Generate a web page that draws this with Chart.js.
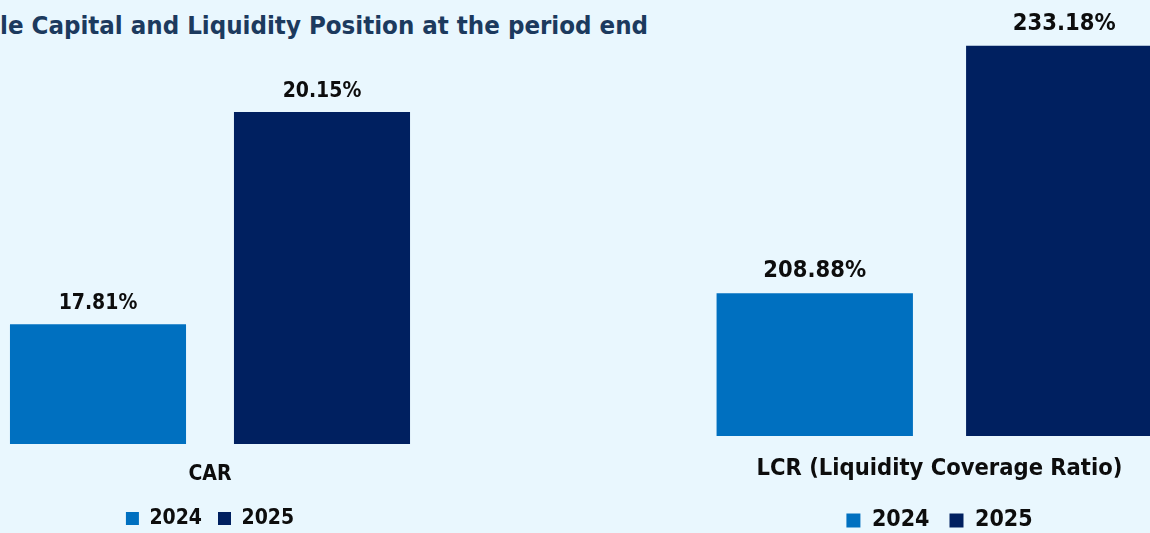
<!DOCTYPE html>
<html>
<head>
<meta charset="utf-8">
<script src="https://cdn.jsdelivr.net/npm/chart.js@4.4.1/dist/chart.umd.min.js"></script>
<style>
  html,body{margin:0;padding:0;width:1150px;height:533px;overflow:hidden;background:#e9f7fe;}
  #title{position:absolute;left:0;top:12px;font:bold 25.6px 'DejaVu Sans Condensed','DejaVu Sans',sans-serif;line-height:26px;color:#1c3a5e;white-space:nowrap;}
  canvas{position:absolute;top:0;}
  #cCar{left:-14px;}
  #cLcr{left:690px;}
</style>
</head>
<body>
<div id="title">le Capital and Liquidity Position at the period end</div>
<canvas id="cCar" width="448" height="539"></canvas>
<canvas id="cLcr" width="499" height="542"></canvas>
<script>
// ---- data ----
const years = ['2024', '2025'];
const carLabels = ['CAR'];
const car2024 = [17.81];
const car2025 = [20.15];
const lcrLabels = ['LCR (Liquidity Coverage Ratio)'];
const lcr2024 = [208.88];
const lcr2025 = [233.18];

const C24 = '#0070C0', C25 = '#002060', INK = '#0d0d0d';
const FAM = "'DejaVu Sans Condensed','DejaVu Sans',sans-serif";
Chart.defaults.font.family = FAM;
Chart.defaults.color = INK;

// value labels above bars
const valueLabels = {
  id: 'valueLabels',
  afterDatasetsDraw(chart, args, opts) {
    const ctx = chart.ctx;
    ctx.save();
    ctx.font = 'bold ' + opts.size + 'px ' + FAM;
    ctx.fillStyle = INK;
    ctx.textAlign = 'center';
    ctx.textBaseline = 'alphabetic';
    chart.data.datasets.forEach((ds, i) => {
      chart.getDatasetMeta(i).data.forEach((bar, j) => {
        ctx.fillText(ds.data[j].toFixed(2) + '%', bar.x, bar.y - opts.gap);
      });
    });
    ctx.restore();
  }
};

function makeChart(id, labels, a, b, o) {
  return new Chart(document.getElementById(id), {
    type: 'bar',
    data: {
      labels: labels,
      datasets: [
        {label: years[0], data: a, backgroundColor: C24, borderWidth: 0},
        {label: years[1], data: b, backgroundColor: C25, borderWidth: 0}
      ]
    },
    options: {
      responsive: false, animation: false,
      layout: {padding: {top: o.top, left: 0, right: 0, bottom: 0}},
      datasets: {bar: {categoryPercentage: 1, barPercentage: o.barPct}},
      scales: {
        x: {
          grid: {display: false, drawTicks: false}, border: {display: false},
          ticks: {font: {size: o.tickSize, weight: 'bold', lineHeight: 1.2}, padding: o.tickPad, color: INK},
          afterFit: s => { s.height = o.axisH; }
        },
        y: {display: false, min: o.min, max: o.max}
      },
      plugins: {
        legend: {
          position: 'bottom',
          labels: {boxWidth: o.box, boxHeight: o.box, padding: o.legPad, color: INK,
                   font: {size: o.legSize, weight: 'bold'}}
        },
        tooltip: {enabled: false},
        valueLabels: {size: o.valSize, gap: o.gap}
      }
    },
    plugins: [valueLabels]
  });
}

makeChart('cCar', carLabels, car2024, car2025, {
  top: 35, barPct: 0.786, min: 16.49, max: 21,
  tickSize: 21, tickPad: 18.4, axisH: 48,
  box: 13, legPad: 16, legSize: 21, valSize: 21, gap: 15
});
makeChart('cLcr', lcrLabels, lcr2024, lcr2025, {
  top: 17, barPct: 0.787, min: 194.86, max: 236,
  tickSize: 23.5, tickPad: 18.5, axisH: 53,
  box: 14, legPad: 20, legSize: 23, valSize: 23.5, gap: 16
});
</script>
</body>
</html>
